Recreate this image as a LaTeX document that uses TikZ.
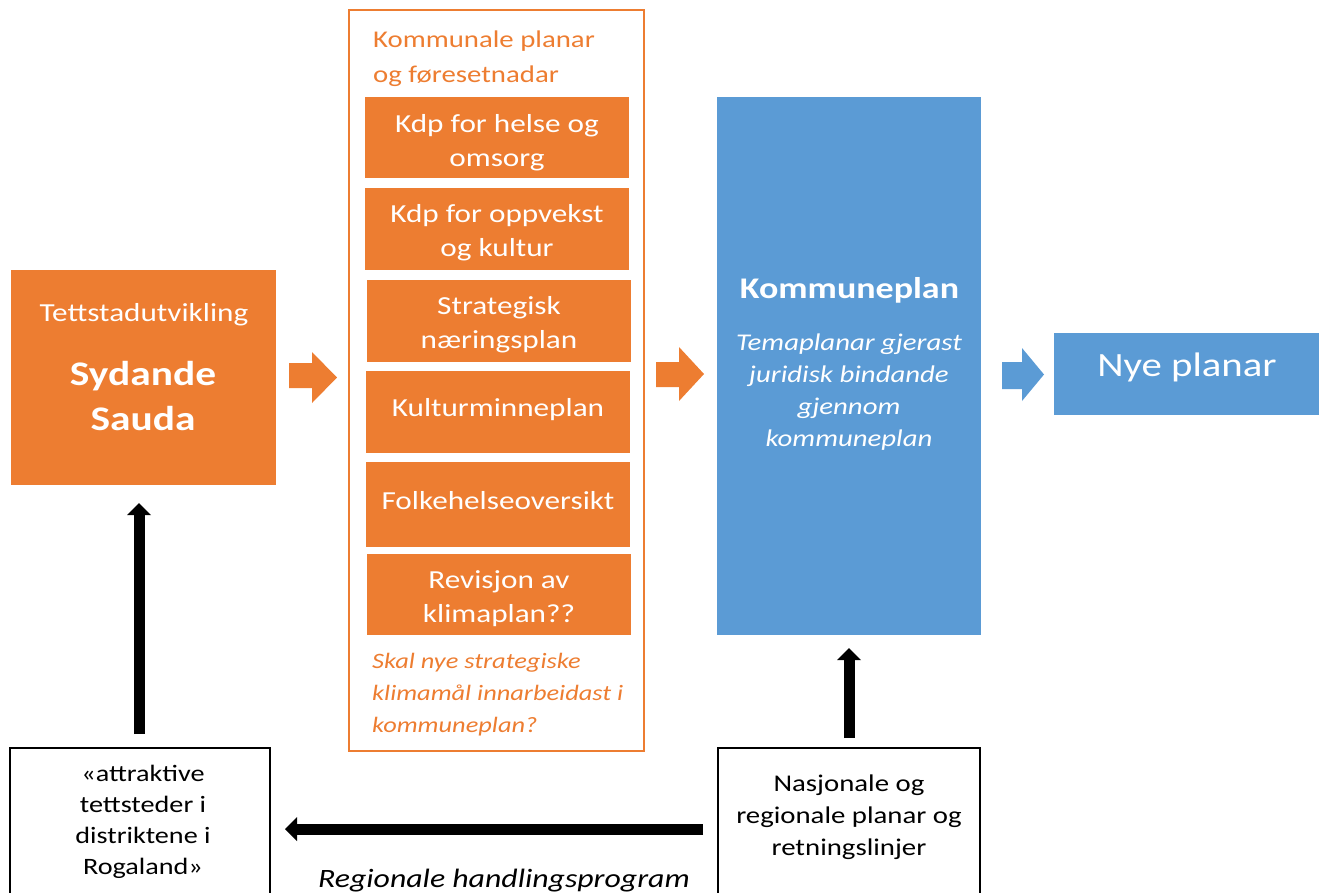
\documentclass[tikz,border=0pt]{standalone}
\usepackage{fontspec}
\setmainfont{Carlito}[FakeStretch=1.2]
\usetikzlibrary{arrows.meta}
\definecolor{orng}{HTML}{ED7D31}
\definecolor{blu}{HTML}{5B9BD5}
\begin{document}
\begin{tikzpicture}[x=1pt,y=-1pt,
  obox/.style={fill=orng, draw=none, inner sep=0pt, minimum width=264pt},
  btxt/.style={inner sep=0pt, align=center, anchor=base, text=white, font=\fontsize{26}{34}\selectfont},
  plainbox/.style={draw=black, line width=2pt, fill=white, inner sep=0pt},
  txt/.style={inner sep=0pt, align=center},
  blk/.style={line width=11pt, draw=black, -{Triangle[width=24pt,length=12pt,line width=0pt]}}
]
\useasboundingbox (0,0) rectangle (1324,892);
\clip (0,0) rectangle (1324,892);

% container of municipal plans
\node[draw=orng, line width=2pt, minimum width=295pt, minimum height=741pt, inner sep=0pt] (cont) at (496.5,380.5) {};
\node[txt, anchor=base west, align=left, text=orng, font=\fontsize{24}{35}\selectfont] (head) at (373,82) {Kommunale planar\\og føresetnadar};
\node[obox, minimum height=81pt] (b1) at (497,137.5) {};
\node[obox, minimum height=82pt] (b2) at (497,229) {};
\node[obox, minimum height=82pt] (b3) at (499,321) {};
\node[obox, minimum height=82pt] (b4) at (498,412) {};
\node[obox, minimum height=85pt] (b5) at (498,504.5) {};
\node[obox, minimum height=81pt] (b6) at (499,594.5) {};
\node[btxt] (t1) at (497,166.5) {Kdp for helse og\\omsorg};
\node[btxt] (t2) at (497,256) {Kdp for oppvekst\\og kultur};
\node[btxt] (t3) at (499,348.5) {Strategisk\\næringsplan};
\node[btxt] (t4) at (498,416.5) {Kulturminneplan};
\node[btxt] (t5) at (498,509.5) {Folkehelseoversikt};
\node[btxt] (t6) at (499,622) {Revisjon av\\klimaplan??};
\node[txt, anchor=base west, align=left, text=orng, font=\fontsize{22}{32}\selectfont\itshape] (note) at (372,732) {Skal nye strategiske\\klimamål innarbeidast i\\kommuneplan?};

% left orange box
\node[fill=orng, inner sep=0pt, minimum width=265pt, minimum height=215pt] (syd) at (143.5,377.5) {};
\node[txt, anchor=base, text=white, font=\fontsize{26}{32}\selectfont] (tett) at (144,321) {Tettstadutvikling};
\node[txt, anchor=base, text=white, font=\fontsize{34.5}{45}\selectfont\bfseries] (sauda) at (143,430) {Sydande\\Sauda};

% blue box
\node[fill=blu, inner sep=0pt, minimum width=264pt, minimum height=538pt] (kp) at (849,366) {};
\node[txt, anchor=base, text=white, font=\fontsize{30}{36}\selectfont\bfseries] (kptitle) at (849.5,298) {Kommuneplan};
\node[txt, anchor=base, text=white, font=\fontsize{24}{32}\selectfont\itshape] (tema) at (849,446) {Temaplanar gjerast\\juridisk bindande\\gjennom\\kommuneplan};

% new plans
\node[fill=blu, inner sep=0pt, minimum width=265pt, minimum height=82pt] (nye) at (1186.5,374) {};
\node[txt, anchor=base, text=white, font=\fontsize{34}{40}\selectfont] (nyetxt) at (1187,376) {Nye planar};

% bottom boxes
\node[plainbox, minimum width=260pt, minimum height=157pt] (att) at (140,826.5) {};
\node[txt, anchor=base, font=\fontsize{23.5}{31}\selectfont] (atttxt) at (143,874) {«attraktive\\tettsteder i\\distriktene i\\Rogaland»};
\node[plainbox, minimum width=262pt, minimum height=157pt] (nasj) at (849,826.5) {};
\node[txt, anchor=base, font=\fontsize{24}{32}\selectfont] (nasjtxt) at (849,855) {Nasjonale og\\regionale planar og\\retningslinjer};
\node[txt, anchor=base, font=\fontsize{26.5}{30}\selectfont\itshape] (reg) at (504,887) {Regionale handlingsprogram};

% block arrows
\fill[orng] (289,363) -- (312,363) -- (312,352) -- (337,377.5) -- (312,403) -- (312,388) -- (289,388) -- cycle;
\fill[orng] (656,362) -- (679,362) -- (679,347) -- (704,374) -- (679,401) -- (679,387) -- (656,387) -- cycle;
\fill[blu] (1002,362) -- (1022,362) -- (1022,348) -- (1044,374.5) -- (1022,401) -- (1022,389) -- (1002,389) -- cycle;

% black connectors
\draw[blk, shorten <=13pt, shorten >=18pt] ([xshift=-1pt]att.north) -- ([xshift=-1pt]att.north |- syd.south);
\draw[blk, shorten <=9pt, shorten >=13pt] (nasj.north) -- (kp.south);
\coordinate (hy) at (0,829);
\draw[blk, shorten <=14pt, shorten >=14pt] (nasj.west |- hy) -- (att.east |- hy);
\end{tikzpicture}
\end{document}
